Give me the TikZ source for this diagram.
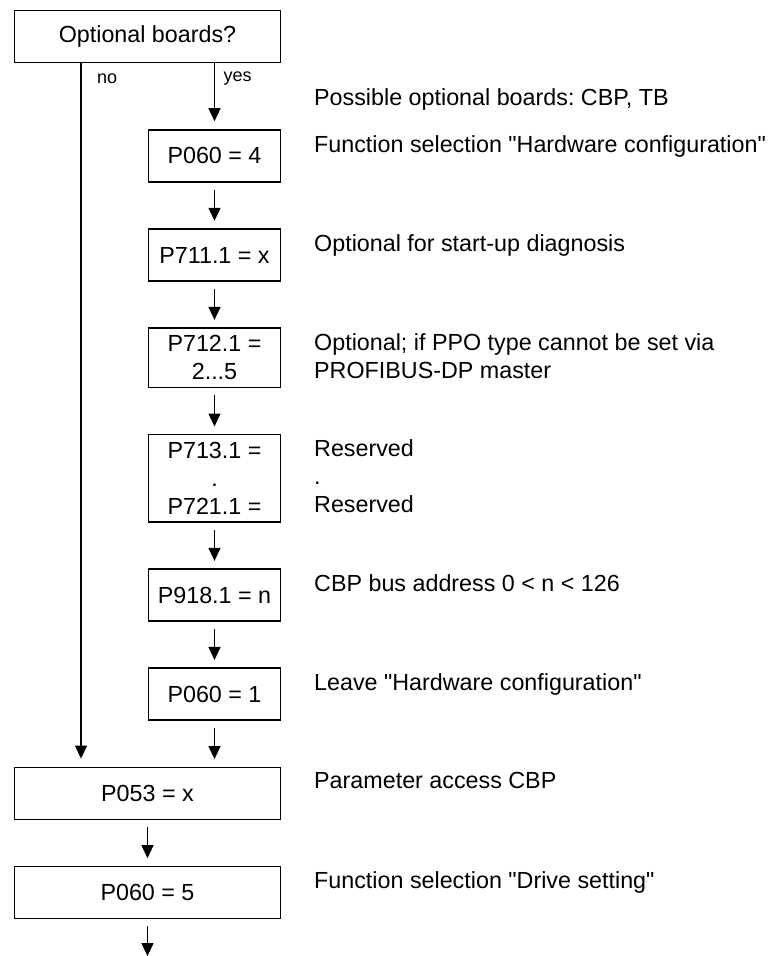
\documentclass[tikz,border=0pt]{standalone}
\usepackage{fontspec}
\setmainfont{Liberation Sans}
\frenchspacing
\usepackage{tikz}
\usetikzlibrary{
  positioning,
  arrows.meta
}

\begin{document}
\begin{tikzpicture}[
  node distance = 45.7pt,
  pbox/.style    = {draw, line width=1.4pt, minimum width=132pt,
                    minimum height=52pt, inner xsep=4pt, inner ysep=7.5pt,
                    align=center, font=\fontsize{23.3}{28}\selectfont},
  widebox/.style = {pbox, minimum width=266pt},
  note/.style    = {inner sep=0pt, outer sep=0pt, align=left,
                    font=\fontsize{23.3}{28}\selectfont},
  lbl/.style     = {inner sep=0pt, outer sep=0pt,
                    font=\fontsize{18}{22}\selectfont},
  arrow/.style   = {-{Triangle[length=13pt,width=12pt]}, line width=1.4pt,
                    shorten <=7pt, shorten >=7.5pt}
]
  \useasboundingbox (0,0) rectangle (772pt,-956pt);

  % Decision
  \node[widebox] (boards) at (147.5pt,-36.5pt) {Optional boards?};

  % Hardware configuration branch
  \node[pbox, below=66pt of boards.south east, anchor=north east] (p0604) {P060 = 4};
  \node[pbox, below=of p0604] (p711) {P711.1 = x};
  \node[pbox, below=of p711] (p712) {P712.1 =\\2...5};
  \node[pbox, below=of p712] (p713) {P713.1 =\\.\\P721.1 =};
  \node[pbox, below=of p713] (p918) {P918.1 = n};
  \node[pbox, below=of p918] (p0601) {P060 = 1};

  % Common part
  \node[widebox, below=45.7pt of p0601.south east, anchor=north east] (p053) {P053 = x};
  \node[widebox, below=of p053] (p0605) {P060 = 5};

  % Notes on the right
  \node[note, right=33pt of p0604.north east, anchor=north west, yshift=-6pt] (fsel)
    {Function selection \textquotedbl Hardware configuration\textquotedbl};
  \node[note, anchor=north west] (optlist) at ([yshift=47pt]fsel.north west)
    {Possible optional boards: CBP, TB};
  \node[note, right=33pt of p711.north east, anchor=north west, yshift=-6pt] (diag)
    {Optional for start-up diagnosis};
  \node[note, right=33pt of p712.north east, anchor=north west, yshift=-6pt] (ppo)
    {Optional; if PPO type cannot be set via\\PROFIBUS-DP master};
  \node[note, right=33pt of p713.north east, anchor=north west, yshift=-6pt] (resv)
    {Reserved\\.\\Reserved};
  \node[note, right=33pt of p918.north east, anchor=north west, yshift=-6pt] (addr)
    {CBP bus address 0 < n < 126};
  \node[note, right=33pt of p0601.north east, anchor=north west, yshift=-6pt] (leave)
    {Leave \textquotedbl Hardware configuration\textquotedbl};
  \node[note, right=33pt of p053.north east, anchor=north west, yshift=-6pt] (access)
    {Parameter access CBP};
  \node[note, right=33pt of p0605.north east, anchor=north west, yshift=-6pt] (drive)
    {Function selection \textquotedbl Drive setting\textquotedbl};

  % Branches
  \coordinate (nostart) at ([xshift=-66.5pt]boards.south);
  \coordinate (yesstart) at (boards.south -| p0604.north);
  \draw[arrow, shorten <=0pt, shorten >=8pt] (nostart) -- (nostart |- p053.north);
  \draw[arrow, shorten <=0pt, shorten >=8pt] (yesstart) -- (p0604.north);
  \node[lbl, anchor=base west] (nolbl) at ([xshift=16pt,yshift=-20pt]nostart) {no};
  \node[lbl, anchor=base west] (yeslbl) at ([xshift=9pt,yshift=-18.5pt]yesstart) {yes};

  % Flow
  \foreach \a/\b in {p0604/p711, p711/p712, p712/p713, p713/p918, p918/p0601, p053/p0605}
    \draw[arrow] (\a.south) -- (\b.north);
  \draw[arrow] (p0601.south) -- (p0601.south |- p053.north);
  \coordinate (exit) at ([yshift=-37pt]p0605.south);
  \draw[arrow, shorten >=0pt] (p0605.south) -- (exit);

\end{tikzpicture}
\end{document}
